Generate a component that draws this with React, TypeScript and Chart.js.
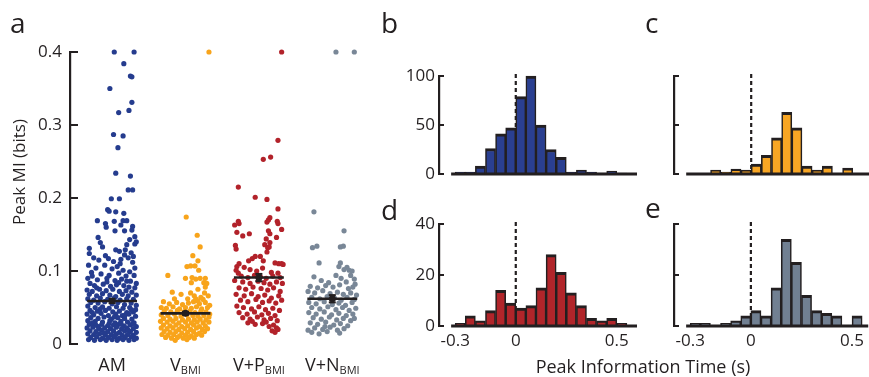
import React, { useEffect, useRef } from 'react';
import { Chart, registerables } from 'chart.js';

Chart.register(...registerables);

const FONT = '"Open Sans", "DejaVu Sans", sans-serif';
const INK = '#231f20';
const W = 869;
const H = 377;

// ---------- Panel a: peak MI scatter ----------
const groups = ['AM', 'V', 'V+P', 'V+N'];
const groupSubs = ['', 'BMI', 'BMI', 'BMI'];
const groupColors = ['#253c8e', '#f8a41b', '#b2222a', '#798797'];
const groupMeans = [0.059, 0.042, 0.091, 0.062];
const groupSems = [0.003, 0.002, 0.005, 0.005];
const miTicks = [0, 0.1, 0.2, 0.3, 0.4];

// [jitter offset from group centre, peak MI]
const amPoints = [
  [.03,.4],[.3,.4],[.16,.384],[.25,.367],[.27,.366],[-.03,.35],[.27,.331],[.23,.32],[.09,.317],[.02,.287],[.15,.285],[.08,.269],[.05,.234],[.25,.23],[.22,.211],[.28,.211],[-.01,.199],[.1,.199],[-.06,.184],[-.04,.182],[.05,.181],[.16,.179],[-.2,.169],[.03,.168],[.15,.169],[.2,.169],[.28,.161],[.27,.156],[-.08,.16],[.04,.155],[.17,.155],[-.19,.146],[.31,.147],[.31,.137],[.24,.143],[.33,.14],[-.09,.165],[.12,.163],
  [-.31,.131],[-.31,.124],[-.13,.133],[.05,.129],[.1,.127],[.18,.129],[.17,.122],[.2,.136],[-.16,.139],[.26,.125],[-.25,.118],[-.18,.115],[-.05,.117],[.02,.113],[.12,.116],[.22,.118],[.28,.112],[.31,.104],[-.32,.108],[-.22,.104],[-.1,.108],[0,.103],[.07,.106],[.15,.101],[.24,.099],[-.28,.098],[-.15,.096],[-.04,.094],[.09,.097],[.19,.093],[.3,.094],[-.33,.09],[-.2,.088],[-.07,.09],[.04,.087],[.13,.089],[.25,.086],[.33,.083],[-.27,.093],[.11,.11],[-.09,.121],[.29,.12],
  [-.3,.083],[-.24,.08],[-.12,.082],[-.02,.079],[.06,.081],[.16,.08],[.23,.078],[.31,.077],[-.34,.074],[-.27,.072],[-.17,.075],[-.08,.073],[.01,.075],[.1,.072],[.19,.073],[.27,.071],[-.31,.068],[-.21,.066],[-.13,.069],[-.03,.067],[.05,.065],[.14,.068],[.22,.066],[.33,.067],[-.33,.062],[-.25,.06],[-.16,.063],[-.06,.061],[.03,.063],[.11,.06],[.2,.062],[.29,.061],[-.29,.057],[-.19,.056],[-.1,.058],[0,.055],[.08,.057],[.17,.054],[.26,.056],[.33,.053],[-.33,.052],[-.23,.05],[-.13,.051],[-.04,.049],[.06,.051],[.15,.049],[.24,.05],[.32,.047],[-.07,.085],[.09,.084],[.2,.086],[-.21,.077],
  [-.3,.046],[-.2,.045],[-.09,.046],[.01,.044],[.1,.045],[.2,.043],[.29,.044],[-.34,.041],[-.25,.04],[-.15,.042],[-.05,.039],[.05,.041],[.14,.039],[.23,.041],[.32,.038],[-.29,.036],[-.19,.035],[-.11,.037],[-.01,.034],[.08,.036],[.17,.035],[.27,.034],[-.33,.032],[-.23,.031],[-.13,.03],[-.03,.032],[.04,.029],[.12,.031],[.21,.03],[.3,.029],[-.27,.043],[.26,.047],[-.16,.048],[.03,.037],[.18,.04],
  [-.31,.027],[-.22,.026],[-.14,.027],[-.06,.025],[.02,.026],[.09,.027],[.16,.025],[.25,.026],[.33,.024],[-.34,.022],[-.26,.023],[-.18,.021],[-.1,.022],[-.02,.021],[.06,.023],[.13,.021],[.2,.022],[.29,.021],[-.3,.018],[-.22,.017],[-.14,.019],[-.06,.017],[.02,.018],[.1,.016],[.17,.018],[.25,.017],[.33,.016],[-.33,.014],[-.25,.013],[-.17,.014],[-.09,.012],[-.01,.013],[.06,.014],[.14,.012],[.21,.013],[.29,.012],[-.29,.009],[-.21,.01],[-.13,.008],[-.05,.009],[.03,.01],[.1,.008],[.18,.009],[.26,.01],[.33,.008],[-.32,.006],[-.24,.005],[-.16,.006],[-.08,.005],[0,.006],[.07,.005],[.15,.006],[.23,.005],[.3,.006],[-.27,.029],[.12,.028],[-.11,.015],[.22,.019],[.04,.011],[-.19,.024],[.28,.028],[-.04,.028]
];

const vPoints = [
  [.32,.4],[.01,.174],[.16,.149],[.2,.133],[.1,.121],[.17,.114],[.02,.106],[.07,.107],[.13,.107],[.18,.101],[-.24,.094],[0,.09],[.09,.091],[.14,.089],[.2,.09],[.27,.09],[.08,.084],[.25,.084],[.29,.083],[.17,.075],[.27,.078],[.26,.07],[-.18,.071],[.07,.07],[.12,.066],[.14,.062],[-.06,.068],[.21,.064],[.31,.066],
  [-.3,.058],[-.22,.055],[-.12,.057],[-.04,.054],[.04,.056],[.11,.058],[.19,.055],[.27,.057],[.33,.053],[-.33,.05],[-.26,.049],[-.17,.051],[-.08,.048],[0,.05],[.08,.049],[.15,.051],[.22,.048],[.3,.05],[-.29,.045],[-.2,.044],[-.11,.046],[-.02,.044],[.06,.045],[.13,.043],[.21,.045],[.28,.044],[.33,.041],[-.33,.04],[-.24,.039],[-.15,.041],[-.06,.038],[.02,.04],[.1,.039],[.17,.038],[.25,.039],[.32,.037],[.03,.062],[.24,.061],[-.15,.062],[.17,.059],
  [-.3,.035],[-.21,.034],[-.13,.035],[-.04,.033],[.04,.034],[.12,.033],[.2,.034],[.28,.033],[-.34,.031],[-.25,.03],[-.17,.031],[-.09,.029],[0,.03],[.08,.029],[.16,.03],[.24,.029],[.32,.03],[-.3,.026],[-.21,.025],[-.13,.026],[-.05,.024],[.03,.025],[.11,.026],[.19,.024],[.27,.025],[-.33,.022],[-.25,.021],[-.17,.022],[-.09,.02],[-.01,.021],[.07,.02],[.15,.022],[.23,.02],[.3,.021],[-.29,.017],[-.21,.016],[-.13,.017],[-.05,.015],[.03,.016],[.11,.017],[.19,.015],[.26,.017],[-.32,.013],[-.24,.012],[-.16,.013],[-.08,.011],[0,.012],[.08,.011],[.15,.013],[.22,.012],[-.27,.009],[-.19,.008],[-.11,.009],[-.03,.008],[.05,.009],[.12,.008],[-.14,.005],[.02,.006]
];

const vpPoints = [
  [.31,.4],[.26,.279],[.06,.253],[.16,.256],[-.28,.215],[-.05,.201],[.11,.198],[.26,.185],[.15,.173],[.13,.17],[.11,.167],[-.28,.168],[-.33,.163],[-.27,.165],[.25,.168],[.26,.165],[.31,.157],[-.3,.153],[-.22,.148],[-.13,.151],[.13,.155],[.15,.151],[.24,.146],[.1,.144],[.15,.139],[.08,.136],[-.32,.135],[-.31,.13],[.12,.132],[.14,.133],[.11,.126],[-.05,.12],[-.09,.117],[-.14,.114],[.02,.12],[.06,.114],[-.27,.11],[-.3,.106],[-.31,.101],[-.28,.097],[.22,.111],[.27,.11],[.31,.11],[.33,.109],
  [-.2,.105],[-.12,.102],[-.03,.1],[.05,.104],[.17,.098],[.26,.097],[-.24,.093],[-.15,.091],[-.06,.094],[.02,.092],[.1,.09],[.19,.093],[.29,.091],[-.33,.087],[-.22,.085],[-.12,.083],[-.01,.086],[.07,.084],[.15,.082],[.24,.085],[.32,.083],[-.27,.077],[-.18,.075],[-.08,.078],[.03,.076],[.12,.074],[.2,.077],[.29,.072],[-.31,.068],[-.2,.066],[-.1,.069],[-.01,.065],[.08,.067],[.17,.063],[.27,.066],[-.25,.06],[-.15,.058],[-.04,.061],[.05,.057],[.14,.059],[.23,.056],[.31,.06],[-.3,.052],
  [-.21,.05],[-.1,.048],[0,.051],[.09,.047],[.19,.049],[.28,.046],[-.27,.043],[-.16,.041],[-.06,.044],[.04,.04],[.13,.042],[.22,.039],[-.22,.036],[-.12,.034],[-.02,.037],[.07,.033],[.16,.035],[.25,.032],[-.15,.029],[-.05,.027],[.05,.028],[.2,.026],[.14,.024],[.24,.022],[.18,.018],[.22,.016],[.26,.02],[-.09,.031],[.1,.03]
];

const vnPoints = [
  [.05,.4],[.3,.4],[-.25,.181],[.16,.155],[-.27,.132],[-.21,.134],[.11,.133],[.15,.134],[-.18,.111],[.11,.111],[.09,.106],[.2,.105],[.23,.101],[.27,.1],[.16,.102],[-.25,.092],[.05,.094],[.12,.09],[.25,.094],[.3,.089],
  [-.15,.087],[-.05,.084],[.19,.085],[.31,.082],[-.3,.079],[-.2,.077],[-.09,.08],[.01,.078],[.1,.081],[.22,.076],[.28,.078],[-.33,.072],[-.24,.07],[-.13,.073],[-.03,.069],[.07,.071],[.15,.068],[.25,.07],[.33,.067],[-.28,.064],[-.17,.062],[-.07,.065],[.03,.063],[.12,.06],[.2,.064],[.3,.061],[-.32,.057],[-.22,.055],[-.11,.058],[0,.054],[.09,.056],[.18,.053],[.27,.057],
  [-.28,.05],[-.17,.048],[-.06,.051],[.05,.047],[.14,.05],[.23,.046],[.32,.049],[-.32,.043],[-.22,.041],[-.11,.044],[-.01,.04],[.09,.042],[.19,.039],[.28,.041],[-.26,.036],[-.15,.034],[-.04,.037],[.06,.033],[.15,.035],[.25,.032],[-.3,.029],[-.2,.027],[-.09,.03],[.02,.026],[.11,.028],[.21,.025],[-.24,.022],[-.13,.02],[-.03,.023],[.07,.019],[.16,.021],[-.28,.016],[-.18,.014],[-.07,.017],[.1,.015],[-.33,.019],[.3,.035],[-.1,.024]
];

const groupPoints = [amPoints, vPoints, vpPoints, vnPoints];

// ---------- Panels b-e: peak information time histograms ----------
const binStarts = [-0.3, -0.25, -0.2, -0.15, -0.1, -0.05, 0, 0.05, 0.1, 0.15, 0.2, 0.25, 0.3, 0.35, 0.4, 0.45, 0.5, 0.55];
const binWidth = 0.05;
const countsB = [2, 2, 8, 26, 41, 47, 79, 100, 50, 25, 17, 2, 4, 2, 1, 3, 1, 0];
const countsC = [0, 0, 4, 2, 5, 4, 10, 19, 37, 63, 47, 8, 4, 8, 0, 6, 0, 0];
const countsD = [1, 4, 2, 6, 14, 9, 7, 8, 15, 28, 21, 13, 8, 3, 2, 3, 1, 0];
const countsE = [1, 1, 0, 1, 2, 4, 6, 4, 15, 34, 25, 12, 6, 5, 4, 0, 4, 0];
const timeTicks = [-0.3, 0, 0.5];
const countTicksTop = [0, 50, 100];
const countTicksBottom = [0, 20, 40];

const inwardTicks = (len: number) => ({
  id: 'inwardTicks',
  afterDraw(chart: any) {
    const { ctx, chartArea, scales } = chart;
    const y = scales.y;
    ctx.save();
    ctx.strokeStyle = INK;
    ctx.lineWidth = 2;
    y.ticks.forEach((t: any) => {
      const py = y.getPixelForValue(t.value);
      ctx.beginPath();
      ctx.moveTo(chartArea.left, py);
      ctx.lineTo(chartArea.left + len, py);
      ctx.stroke();
    });
    ctx.restore();
  },
});

const panelAText = {
  id: 'panelAText',
  afterDraw(chart: any) {
    const { ctx, scales } = chart;
    const x = scales.x;
    ctx.save();
    ctx.fillStyle = INK;
    ctx.textBaseline = 'alphabetic';
    // category labels with subscripts
    groups.forEach((g, i) => {
      const cx = x.getPixelForValue(i);
      ctx.font = `18px ${FONT}`;
      const w1 = ctx.measureText(g).width;
      ctx.font = `11px ${FONT}`;
      const w2 = groupSubs[i] ? ctx.measureText(groupSubs[i]).width : 0;
      const left = cx - (w1 + w2) / 2;
      ctx.font = `18px ${FONT}`;
      ctx.textAlign = 'left';
      ctx.fillText(g, left, 371);
      if (groupSubs[i]) {
        ctx.font = `11px ${FONT}`;
        ctx.fillText(groupSubs[i], left + w1, 374);
      }
    });
    // panel letters
    ctx.font = `28px ${FONT}`;
    ctx.textAlign = 'left';
    ctx.fillText('a', 10, 33);
    ctx.fillText('b', 381, 33);
    ctx.fillText('c', 645, 33);
    ctx.fillText('d', 381, 220);
    ctx.fillText('e', 645, 218);
    // axis titles
    ctx.font = `18px ${FONT}`;
    ctx.textAlign = 'center';
    ctx.fillText('Peak Information Time (s)', 643, 373);
    ctx.save();
    ctx.translate(20, 172);
    ctx.rotate(-Math.PI / 2);
    ctx.textBaseline = 'middle';
    ctx.font = `17px ${FONT}`;
    ctx.fillText('Peak MI (bits)', 0, 0);
    ctx.restore();
    ctx.restore();
  },
};

const histDecor = {
  id: 'histDecor',
  beforeDatasetsDraw(chart: any) {
    const { ctx, chartArea, scales } = chart;
    const px = scales.x.getPixelForValue(0);
    ctx.save();
    ctx.strokeStyle = INK;
    ctx.lineWidth = 2.2;
    ctx.setLineDash([4, 3]);
    ctx.beginPath();
    ctx.moveTo(px, chartArea.top - 2);
    ctx.lineTo(px, chartArea.bottom);
    ctx.stroke();
    ctx.restore();
  },
  afterDatasetsDraw(chart: any) {
    const { ctx, chartArea, scales } = chart;
    ctx.save();
    ctx.strokeStyle = INK;
    ctx.lineWidth = 2.8;
    ctx.beginPath();
    ctx.moveTo(scales.x.getPixelForValue(-0.32), chartArea.bottom);
    ctx.lineTo(chartArea.right, chartArea.bottom);
    ctx.stroke();
    ctx.restore();
  },
};

function makeScatter(canvas: HTMLCanvasElement) {
  const datasets: any[] = [];
  groups.forEach((g, i) => {
    const m = groupMeans[i];
    const s = groupSems[i];
    datasets.push({
      data: [{ x: i, y: m }],
      pointRadius: 3.5,
      pointStyle: i === 0 ? 'rect' : 'circle',
      pointBackgroundColor: INK,
      pointBorderWidth: 0,
      order: 0,
      clip: false,
    });
    datasets.push({
      data: [{ x: i, y: m - s }, { x: i, y: m + s }],
      showLine: true,
      borderColor: INK,
      borderWidth: 2,
      pointStyle: 'line',
      pointRadius: 3.5,
      pointBorderColor: INK,
      pointBorderWidth: 2,
      order: 0,
      clip: false,
    });
    datasets.push({
      data: [{ x: i - 0.34, y: m }, { x: i + 0.34, y: m }],
      showLine: true,
      borderColor: INK,
      borderWidth: 2.6,
      pointRadius: 0,
      order: 1,
      clip: false,
    });
    datasets.push({
      data: groupPoints[i].map(([dx, y]) => ({ x: i + dx, y })),
      pointRadius: 2.6,
      pointBackgroundColor: groupColors[i],
      pointBorderWidth: 0,
      order: 2,
      clip: false,
    });
  });
  return new Chart(canvas, {
    type: 'scatter',
    data: { datasets },
    options: {
      animation: false,
      responsive: false,
      events: [],
      layout: { padding: { left: 0, right: W - 369, top: 52, bottom: 33 } },
      plugins: { legend: { display: false }, tooltip: { enabled: false } },
      scales: {
        x: { type: 'linear', min: -0.573, max: 3.5, display: false },
        y: {
          type: 'linear',
          min: 0,
          max: 0.4,
          afterFit: (s: any) => { s.width = 70; },
          afterBuildTicks: (s: any) => { s.ticks = miTicks.map((v) => ({ value: v })); },
          ticks: {
            color: INK,
            padding: 8,
            font: { family: FONT, size: 17 },
            callback: (v: any) => (v === 0 ? '0' : Number(v).toFixed(1)),
          },
          grid: { drawOnChartArea: false, drawTicks: false },
          border: { display: true, color: INK, width: 2.2 },
        },
      },
    } as any,
    plugins: [inwardTicks(8), panelAText],
  });
}

function makeHist(
  canvas: HTMLCanvasElement,
  counts: number[],
  color: string,
  yMax: number,
  yTicks: number[],
  area: { left: number; right: number; top: number; bottom: number },
  xMax: number,
  showX: boolean,
  showY: boolean,
) {
  const xAxisH = showX ? 30 : 0;
  return new Chart(canvas, {
    type: 'bar',
    data: {
      datasets: [
        {
          data: binStarts.map((b, i) => ({ x: b + binWidth / 2, y: counts[i] })),
          backgroundColor: color,
          borderColor: INK,
          borderWidth: { top: 3, left: 1.6, right: 1.6, bottom: 0 },
          borderSkipped: 'start',
          barPercentage: 1,
          categoryPercentage: 1,
          clip: false,
        },
      ],
    },
    options: {
      animation: false,
      responsive: false,
      events: [],
      layout: {
        padding: {
          left: area.left - 40,
          right: W - area.right,
          top: area.top,
          bottom: H - area.bottom - xAxisH,
        },
      },
      plugins: { legend: { display: false }, tooltip: { enabled: false } },
      scales: {
        x: {
          type: 'linear',
          min: -0.38,
          max: xMax,
          offset: false,
          display: showX,
          afterFit: (s: any) => { s.height = xAxisH; },
          afterBuildTicks: (s: any) => { s.ticks = timeTicks.map((v) => ({ value: v })); },
          ticks: {
            color: INK,
            padding: 5,
            maxRotation: 0,
            autoSkip: false,
            font: { family: FONT, size: 17 },
            callback: (v: any) => (v === 0 ? '0' : String(v)),
          },
          grid: { display: false, drawTicks: false },
          border: { display: false },
        },
        y: {
          type: 'linear',
          min: 0,
          max: yMax,
          afterFit: (s: any) => { s.width = 40; },
          afterBuildTicks: (s: any) => { s.ticks = yTicks.map((v) => ({ value: v })); },
          ticks: {
            display: showY,
            color: INK,
            padding: 4,
            font: { family: FONT, size: 17 },
          },
          grid: { drawOnChartArea: false, drawTicks: false },
          border: { display: true, color: INK, width: 2.2 },
        },
      },
    } as any,
    plugins: [inwardTicks(5), histDecor],
  });
}

export default function App() {
  const aRef = useRef<HTMLCanvasElement>(null);
  const bRef = useRef<HTMLCanvasElement>(null);
  const cRef = useRef<HTMLCanvasElement>(null);
  const dRef = useRef<HTMLCanvasElement>(null);
  const eRef = useRef<HTMLCanvasElement>(null);

  useEffect(() => {
    Chart.defaults.font.family = FONT;
    const charts = [
      makeScatter(aRef.current!),
      makeHist(bRef.current!, countsB, '#2a3f91', 100, countTicksTop, { left: 439, right: 637, top: 76, bottom: 174 }, 0.6, false, true),
      makeHist(cRef.current!, countsC, '#f8a624', 100, countTicksTop, { left: 674, right: 869, top: 76, bottom: 174 }, 0.58, false, false),
      makeHist(dRef.current!, countsD, '#b1252a', 40, countTicksBottom, { left: 439, right: 637, top: 224, bottom: 326 }, 0.6, true, true),
      makeHist(eRef.current!, countsE, '#718092', 40, countTicksBottom, { left: 674, right: 869, top: 224, bottom: 326 }, 0.58, true, false),
    ];
    return () => charts.forEach((c) => c.destroy());
  }, []);

  const cs: React.CSSProperties = { position: 'absolute', left: 0, top: 0, width: W, height: H };
  return (
    <div style={{ position: 'fixed', left: 0, top: 0, width: W, height: H, background: '#fff', overflow: 'hidden' }}>
      <canvas ref={aRef} width={W} height={H} style={cs} />
      <canvas ref={bRef} width={W} height={H} style={cs} />
      <canvas ref={cRef} width={W} height={H} style={cs} />
      <canvas ref={dRef} width={W} height={H} style={cs} />
      <canvas ref={eRef} width={W} height={H} style={cs} />
    </div>
  );
}
